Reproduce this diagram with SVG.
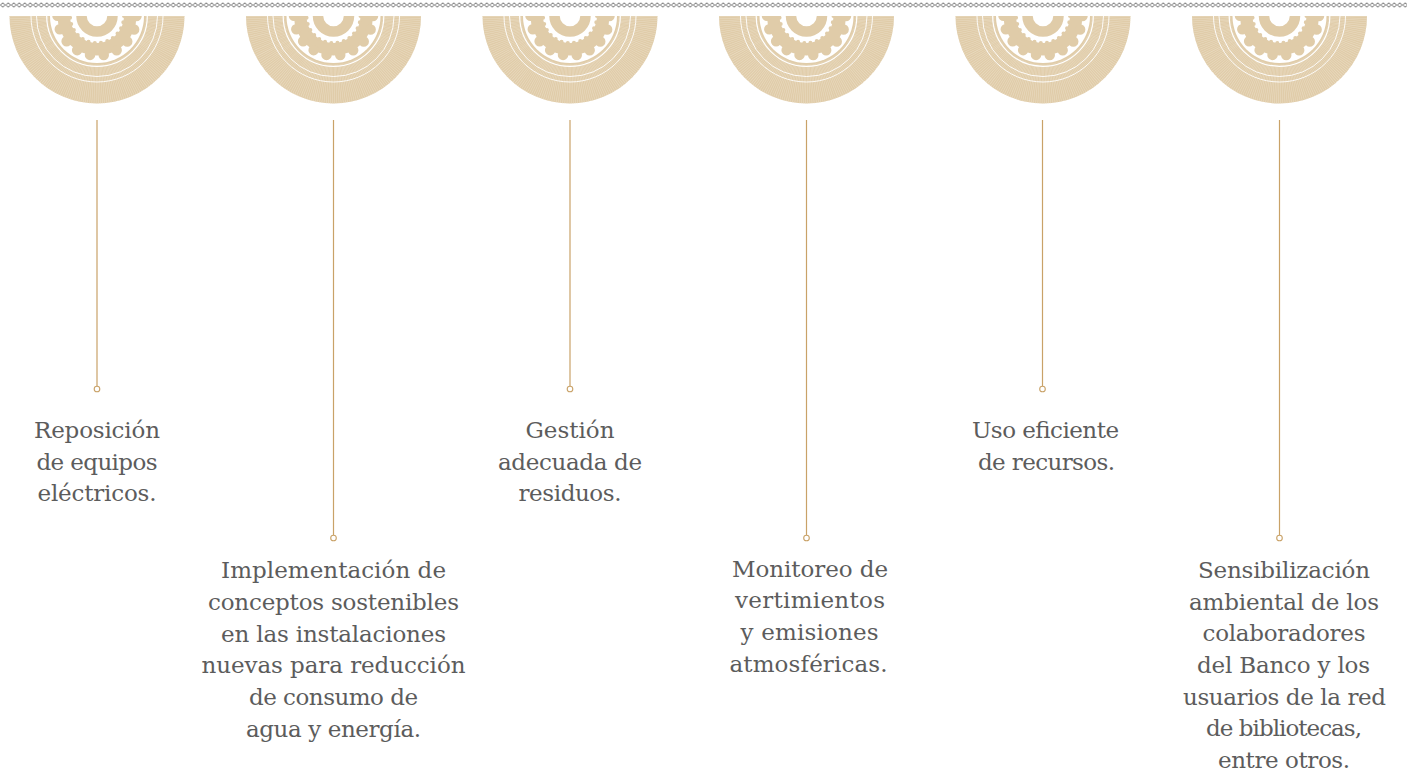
<svg xmlns="http://www.w3.org/2000/svg" xmlns:xlink="http://www.w3.org/1999/xlink" width="1407" height="772" viewBox="0 0 1407 772">
<style>
.lbl{font-family:"DejaVu Serif","Liberation Serif",serif;font-size:23px;fill:#5c5c5c;text-anchor:middle}
.conn{stroke:#c9a268;stroke-width:1.2;fill:none}
.dot{stroke:#c9a268;stroke-width:1.1;fill:#fff}
</style>
<defs>
<pattern id="chain" x="0" y="1" width="5.5" height="8" patternUnits="userSpaceOnUse">
<path d="M0.4,4 L2.75,1.8 L5.1,4 L2.75,6.2 Z" fill="none" stroke="#8a8a8a" stroke-width="0.95"/>
</pattern>
<clipPath id="half"><rect x="-92" y="0" width="184" height="92"/></clipPath>
<g id="medal" clip-path="url(#half)">
<circle r="87.5" fill="#e0cca9"/>
<circle r="68" fill="none" stroke="#eadcc3" stroke-width="39" stroke-dasharray="0.5 1.2"/>
<circle r="60.5" fill="none" stroke="#fff" stroke-width="0.9"/>
<circle r="66" fill="none" stroke="#fff" stroke-width="0.9"/>
<circle r="50.3" fill="none" stroke="#fff" stroke-width="1.2"/>
<circle r="47" fill="#fff"/>
<circle r="39.5" fill="#e0cca9"/>
<circle r="39.5" fill="none" stroke="#e0cca9" stroke-width="10.5" stroke-linecap="round" stroke-dasharray="0 13.79"/>
<circle r="27" fill="#fff"/>
<circle r="27" fill="none" stroke="#e0cca9" stroke-width="4" stroke-linecap="round" stroke-dasharray="0 6.36"/>
<circle r="15.5" fill="none" stroke="#e0cca9" stroke-width="10.5"/>
</g>
</defs>
<rect x="0" y="1" width="1407" height="8" fill="url(#chain)"/>
<g id="connectors">
<line class="conn" x1="97" y1="120" x2="97" y2="386.2"/>
<circle class="dot" cx="97" cy="389" r="2.8"/>
<line class="conn" x1="333.5" y1="120" x2="333.5" y2="535.2"/>
<circle class="dot" cx="333.5" cy="538" r="2.8"/>
<line class="conn" x1="570" y1="120" x2="570" y2="386.2"/>
<circle class="dot" cx="570" cy="389" r="2.8"/>
<line class="conn" x1="806.5" y1="120" x2="806.5" y2="535.2"/>
<circle class="dot" cx="806.5" cy="538" r="2.8"/>
<line class="conn" x1="1042.5" y1="120" x2="1042.5" y2="386.2"/>
<circle class="dot" cx="1042.5" cy="389" r="2.8"/>
<line class="conn" x1="1279.5" y1="120" x2="1279.5" y2="535.2"/>
<circle class="dot" cx="1279.5" cy="538" r="2.8"/>
</g>
<g id="node-1">
<use xlink:href="#medal" href="#medal" x="97" y="16"/>
<text class="lbl"><tspan x="97" y="438" textLength="126">Reposición</tspan><tspan x="97" y="469.7" textLength="121">de equipos</tspan><tspan x="97" y="501.4" textLength="119">eléctricos.</tspan></text>
</g>
<g id="node-2">
<use xlink:href="#medal" href="#medal" x="333.5" y="16"/>
<text class="lbl"><tspan x="333.5" y="578.3" textLength="225">Implementación de</tspan><tspan x="333.5" y="610" textLength="251">conceptos sostenibles</tspan><tspan x="333.5" y="641.7" textLength="225">en las instalaciones</tspan><tspan x="333.5" y="673.4" textLength="264">nuevas para reducción</tspan><tspan x="333.5" y="705.1" textLength="169">de consumo de</tspan><tspan x="333.5" y="736.8" textLength="175">agua y energía.</tspan></text>
</g>
<g id="node-3">
<use xlink:href="#medal" href="#medal" x="570" y="16"/>
<text class="lbl"><tspan x="570" y="438" textLength="89">Gestión</tspan><tspan x="570" y="469.7" textLength="144">adecuada de</tspan><tspan x="570" y="501.4" textLength="103">residuos.</tspan></text>
</g>
<g id="node-4">
<use xlink:href="#medal" href="#medal" x="806.5" y="16"/>
<text class="lbl"><tspan x="810" y="576.7" textLength="156">Monitoreo de</tspan><tspan x="810" y="608.4" textLength="150">vertimientos</tspan><tspan x="809.5" y="640.1" textLength="138">y emisiones</tspan><tspan x="808.5" y="671.8" textLength="158">atmosféricas.</tspan></text>
</g>
<g id="node-5">
<use xlink:href="#medal" href="#medal" x="1043" y="16"/>
<text class="lbl"><tspan x="1045.5" y="438" textLength="147">Uso eficiente</tspan><tspan x="1046.5" y="469.7" textLength="137">de recursos.</tspan></text>
</g>
<g id="node-6">
<use xlink:href="#medal" href="#medal" x="1279.5" y="16"/>
<text class="lbl"><tspan x="1284" y="577.8" textLength="172">Sensibilización</tspan><tspan x="1284" y="609.5" textLength="190">ambiental de los</tspan><tspan x="1284" y="641.2" textLength="163">colaboradores</tspan><tspan x="1283.5" y="672.9" textLength="173">del Banco y los</tspan><tspan x="1284.5" y="704.6" textLength="203">usuarios de la red</tspan><tspan x="1284" y="736.3" textLength="156">de bibliotecas,</tspan><tspan x="1284" y="768" textLength="132">entre otros.</tspan></text>
</g>
</svg>
